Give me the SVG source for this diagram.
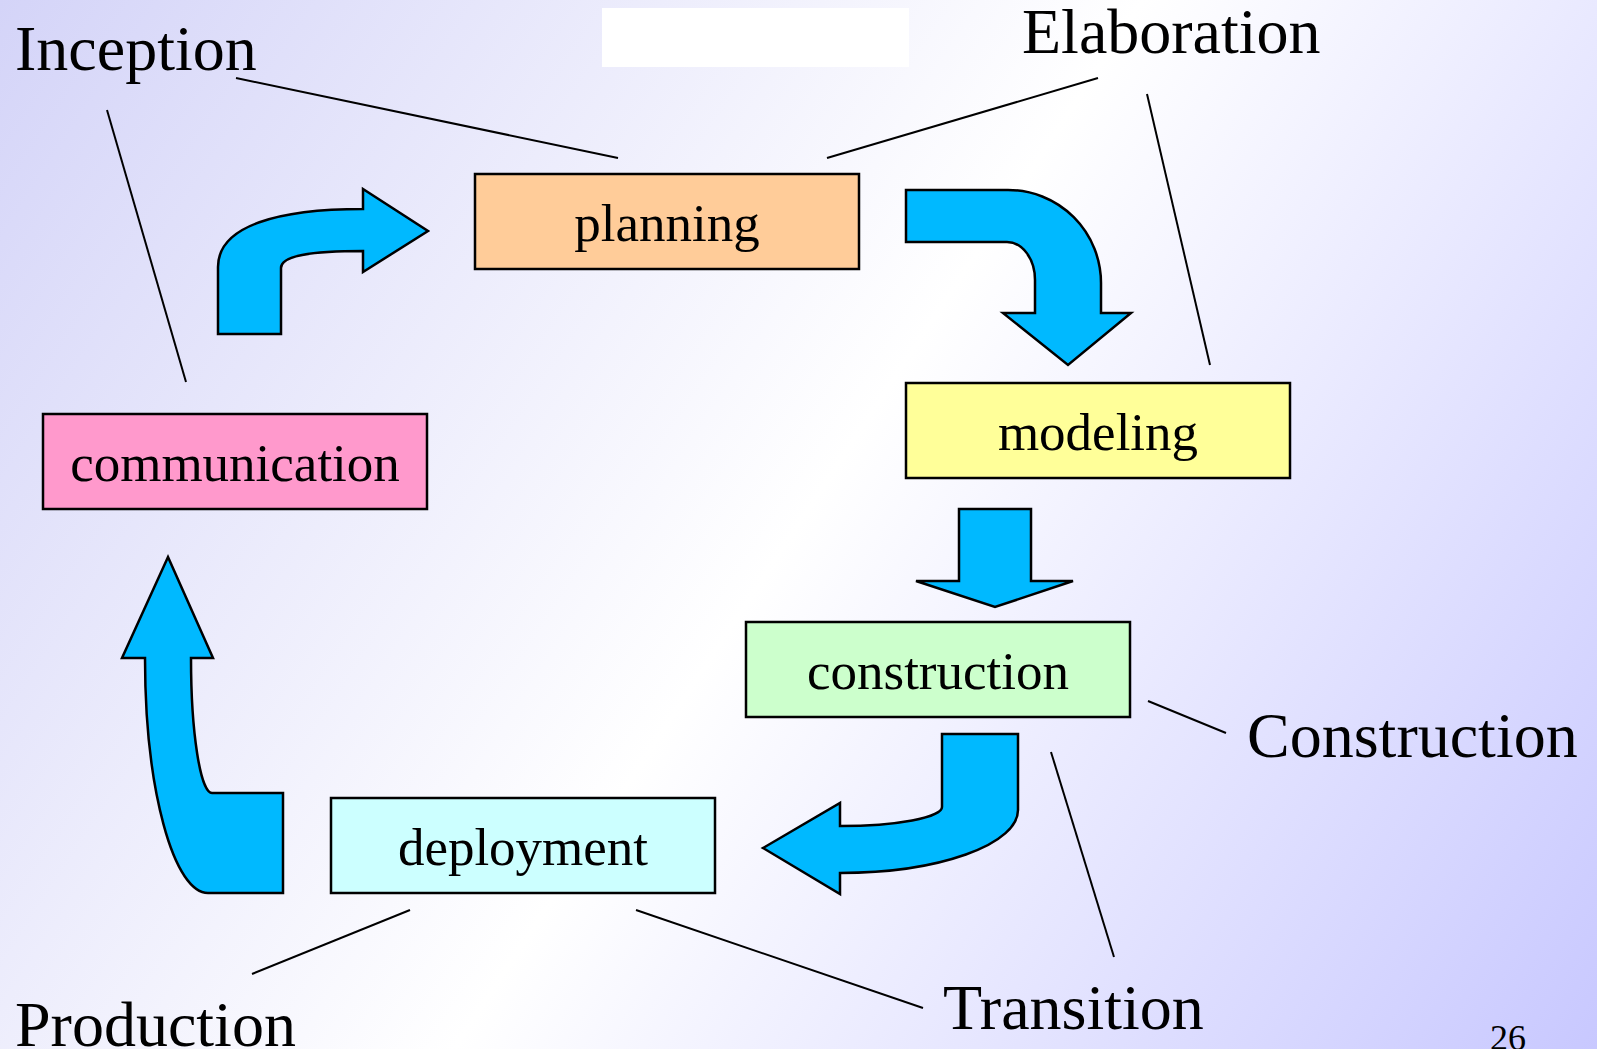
<svg xmlns="http://www.w3.org/2000/svg" width="1597" height="1049" viewBox="0 0 1597 1049">
  <defs>
    <linearGradient id="bg" gradientUnits="userSpaceOnUse" x1="0" y1="0" x2="1597" y2="1049">
      <stop offset="0" stop-color="#d4d4f8"/>
      <stop offset="0.5" stop-color="#ffffff"/>
      <stop offset="1" stop-color="#c8c8ff"/>
    </linearGradient>
  </defs>
  <style>
    .box { stroke: #000; stroke-width: 2.5; }
    .boxtxt { font-family: "Liberation Serif", "Times New Roman", serif; font-size: 53px; fill: #000; text-anchor: middle; }
    .lbl { font-family: "Liberation Serif", "Times New Roman", serif; font-size: 64px; fill: #000; }
    .arrow { fill: #00b9ff; stroke: #000; stroke-width: 2.5; stroke-linejoin: miter; }
    .lead { stroke: #000; stroke-width: 2; fill: none; }
  </style>
  <rect x="0" y="0" width="1597" height="1049" fill="url(#bg)"/>
  <rect x="602" y="8" width="307" height="59" fill="#ffffff"/>

  <g id="connectors">
    <path class="arrow" d="M 218,334 L 218,267 C 218,225 280,209 363,209 L 363,189 L 428,231 L 363,272 L 363,251 C 310,251 281,256 281,268 L 281,334 Z"/>
    <path class="arrow" d="M 906,190 L 1008,190 A 93 93 0 0 1 1101,283 L 1101,313 L 1131,313 L 1068,365 L 1003,313 L 1035,313 L 1035,280 A 28 38 0 0 0 1007,242 L 906,242 Z"/>
    <path class="arrow" d="M 959,509 L 1031,509 L 1031,581 L 1073,581 L 995,607 L 916,581 L 959,581 Z"/>
    <path class="arrow" d="M 942,734 L 1018,734 L 1018,810 A 178 63 0 0 1 840,873 L 840,894 L 763,848 L 840,803 L 840,826 A 102 19 0 0 0 942,807 Z"/>
    <path class="arrow" d="M 168,557 L 213,658 L 191,658 A 21 135 0 0 0 212,793 L 283,793 L 283,893 L 208,893 A 63 235 0 0 1 145,658 L 122,658 Z"/>
    <line class="lead" x1="236" y1="78" x2="618" y2="158"/>
    <line class="lead" x1="107" y1="110" x2="186" y2="382"/>
    <line class="lead" x1="1098" y1="78" x2="827" y2="158"/>
    <line class="lead" x1="1147" y1="94" x2="1210" y2="365"/>
    <line class="lead" x1="1148" y1="701" x2="1226" y2="733"/>
    <line class="lead" x1="1051" y1="752" x2="1114" y2="957"/>
    <line class="lead" x1="636" y1="910" x2="923" y2="1008"/>
    <line class="lead" x1="410" y1="910" x2="252" y2="974"/>
  </g>

  <g id="planning">
    <rect class="box" x="475" y="174" width="384" height="95" fill="#ffcc99"/>
    <text class="boxtxt" x="667" y="241">planning</text>
  </g>
  <g id="modeling">
    <rect class="box" x="906" y="383" width="384" height="95" fill="#ffff99"/>
    <text class="boxtxt" x="1098" y="450">modeling</text>
  </g>
  <g id="communication">
    <rect class="box" x="43" y="414" width="384" height="95" fill="#ff99cc"/>
    <text class="boxtxt" x="235" y="481">communication</text>
  </g>
  <g id="construction">
    <rect class="box" x="746" y="622" width="384" height="95" fill="#ccffcc"/>
    <text class="boxtxt" x="938" y="689">construction</text>
  </g>
  <g id="deployment">
    <rect class="box" x="331" y="798" width="384" height="95" fill="#ccffff"/>
    <text class="boxtxt" x="523" y="865">deployment</text>
  </g>

  <g id="phase-labels">
    <text class="lbl" x="15" y="70">Inception</text>
    <text class="lbl" x="1022" y="53">Elaboration</text>
    <text class="lbl" x="1247" y="757">Construction</text>
    <text class="lbl" x="943" y="1029">Transition</text>
    <text class="lbl" x="15" y="1046">Production</text>
    <text x="1490" y="1050" style="font-family: 'Liberation Serif', 'Times New Roman', serif; font-size: 36px; fill: #000;">26</text>
  </g>
</svg>
